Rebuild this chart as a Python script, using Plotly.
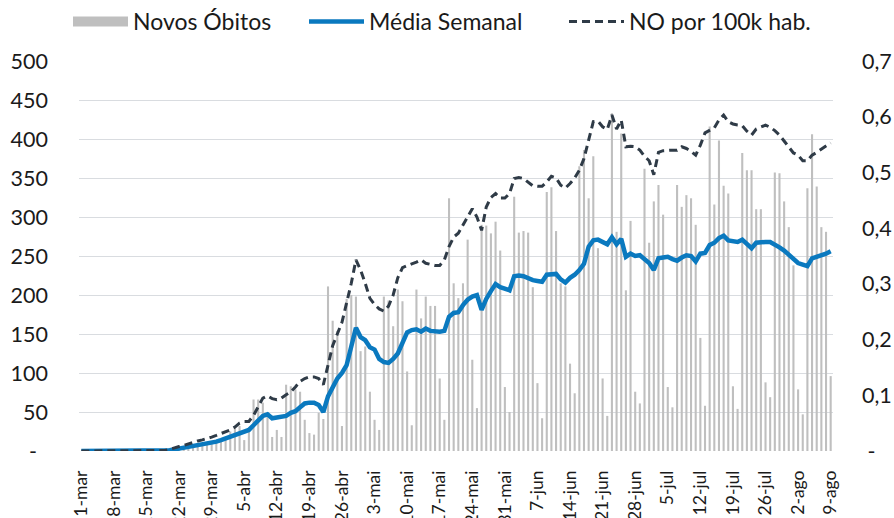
import pandas as pd
import plotly.graph_objects as go

datas = pd.date_range("2020-03-01", "2020-08-09", freq="D")

novos_obitos = [
    0, 0, 0, 0, 0, 0, 0, 0, 0, 0,
    0, 0, 0, 0, 0, 1, 1, 2, 3, 4,
    5, 3, 6, 7, 8, 6, 9, 8, 10, 12,
    14, 16, 25, 30, 32, 14, 28, 66, 66, 62,
    45, 18, 27, 18, 85, 83, 79, 76, 40, 23,
    21, 49, 41, 211, 167, 154, 32, 195, 200, 198,
    128, 134, 76, 40, 27, 198, 193, 160, 207, 192,
    102, 33, 207, 170, 198, 186, 186, 93, 40, 324,
    215, 196, 215, 271, 117, 55, 290, 289, 279, 294,
    257, 82, 50, 326, 280, 282, 280, 210, 87, 42,
    332, 338, 282, 215, 211, 112, 74, 365, 386, 324,
    378, 260, 93, 45, 433, 281, 407, 206, 295, 76,
    61, 362, 267, 320, 341, 303, 82, 56, 341, 313,
    328, 324, 290, 145, 58, 416, 316, 398, 340, 330,
    83, 54, 382, 360, 360, 310, 310, 88, 69, 357,
    356, 320, 287, 238, 79, 47, 337, 406, 339, 287,
    281, 96,
]

media_semanal = [0] * 18 + [
    0.5, 1, 2, 3, 4, 5, 6, 8, 9, 10,
    11, 12, 14, 16, 18, 20, 23, 25, 27, 33,
    40, 45, 47, 42, 43, 44, 45, 49, 51, 56,
    61, 62, 62, 59, 50, 70, 83, 93, 100, 110,
    134, 158, 146, 142, 133, 130, 118, 114, 113, 118,
    125, 140, 152, 155, 156, 153, 157, 154, 153, 153,
    154, 172, 177, 178, 187, 194, 198, 200, 181, 195,
    205, 214, 210, 208, 206, 224, 225, 224, 221, 219,
    218, 217, 226, 227, 227, 220, 216, 222, 226, 232,
    240, 262, 270, 271, 268, 265, 274, 265, 272, 249,
    253, 250, 251, 245, 241, 232, 247, 248, 249, 246,
    244, 248, 251, 250, 243, 253, 254, 264, 267, 273,
    276, 270, 269, 268, 271, 265, 260, 267, 268, 268,
    268, 265, 261, 257, 251, 245, 241, 239, 237, 247,
    249, 250, 253, 256,
]

no_por_100k = [0] * 18 + [
    0.001, 0.003, 0.006, 0.008, 0.010, 0.013, 0.015, 0.018, 0.020, 0.022,
    0.025, 0.028, 0.031, 0.034, 0.038, 0.043, 0.050, 0.053, 0.053, 0.064,
    0.081, 0.095, 0.099, 0.094, 0.092, 0.095, 0.101, 0.106, 0.115, 0.125,
    0.130, 0.133, 0.133, 0.130, 0.119, 0.154, 0.189, 0.210, 0.231, 0.266,
    0.301, 0.343, 0.325, 0.301, 0.274, 0.263, 0.255, 0.251, 0.260, 0.280,
    0.311, 0.329, 0.333, 0.336, 0.339, 0.343, 0.337, 0.335, 0.333, 0.333,
    0.343, 0.367, 0.384, 0.391, 0.406, 0.419, 0.435, 0.420, 0.396, 0.438,
    0.455, 0.462, 0.454, 0.454, 0.462, 0.489, 0.491, 0.489, 0.482, 0.476,
    0.475, 0.475, 0.483, 0.493, 0.490, 0.477, 0.472, 0.480, 0.490, 0.504,
    0.525, 0.557, 0.591, 0.592, 0.582, 0.577, 0.603, 0.578, 0.594, 0.546,
    0.547, 0.546, 0.540, 0.529, 0.521, 0.496, 0.536, 0.539, 0.540, 0.540,
    0.540, 0.546, 0.543, 0.538, 0.531, 0.549, 0.571, 0.575, 0.580, 0.594,
    0.603, 0.591, 0.587, 0.585, 0.584, 0.574, 0.567, 0.578, 0.582, 0.585,
    0.581, 0.575, 0.567, 0.557, 0.546, 0.535, 0.531, 0.521, 0.521, 0.531,
    0.536, 0.542, 0.547, 0.553,
]

rotulos_x = ["1-mar", "8-mar", "15-mar", "22-mar", "29-mar", "5-abr", "12-abr",
             "19-abr", "26-abr", "3-mai", "10-mai", "17-mai", "24-mai", "31-mai",
             "7-jun", "14-jun", "21-jun", "28-jun", "5-jul", "12-jul", "19-jul",
             "26-jul", "2-ago", "9-ago"]
ticks_esq = [0, 50, 100, 150, 200, 250, 300, 350, 400, 450, 500]
rotulos_esq = ["-\u00a0\u00a0", "50", "100", "150", "200", "250", "300", "350", "400", "450", "500"]
ticks_dir = [0, 0.1, 0.2, 0.3, 0.4, 0.5, 0.6, 0.7]
rotulos_dir = ["\u00a0-", "0,1", "0,2", "0,3", "0,4", "0,5", "0,6", "0,7"]

assert len(novos_obitos) == len(datas) == len(media_semanal) == len(no_por_100k)

FONT = "Lato"
GREY = "#BFBFBF"
BLUE = "#0A79BF"
DARK = "#2F3B47"

fig = go.Figure()
fig.add_trace(go.Bar(x=datas, y=novos_obitos, marker_color=GREY, marker_line_width=0,
                     name="Novos Óbitos", showlegend=False))
# legend-only entry drawn as a wide grey block, like the original legend key
fig.add_trace(go.Scatter(x=[None], y=[None], mode="lines", name="Novos Óbitos",
                         line=dict(color=GREY, width=13), legendwidth=166))
fig.add_trace(go.Scatter(x=datas, y=media_semanal, mode="lines", name="Média Semanal",
                         line=dict(color=BLUE, width=4.5), legendwidth=190))
fig.add_trace(go.Scatter(x=datas, y=no_por_100k, mode="lines", name="NO por 100k hab.",
                         yaxis="y2", line=dict(color=DARK, width=3, dash="8px,5px")))

fig.update_layout(
    width=894, height=518,
    margin=dict(l=79, r=61, t=61, b=67, autoexpand=False),
    paper_bgcolor="white", plot_bgcolor="white",
    font=dict(family=FONT, size=21.5, color="#1a1a1a"),
    bargap=0.55,
    showlegend=True,
    legend=dict(orientation="h", xref="container", x=68 / 894, xanchor="left",
                yref="container", y=1.0, yanchor="top",
                font=dict(size=23, family=FONT), itemwidth=55,
                traceorder="normal", bgcolor="rgba(0,0,0,0)"),
    xaxis=dict(
        range=["2020-02-29 12:00", "2020-08-09 12:00"],
        tickvals=[datas[i] for i in range(0, len(datas), 7)],
        ticktext=rotulos_x, tickangle=-90, tickfont=dict(size=17.5),
        showgrid=False, zeroline=False, showline=False, ticks="",
        ticklabelstandoff=15, automargin=False,
    ),
    yaxis=dict(
        range=[0, 500], tickvals=ticks_esq, ticktext=rotulos_esq,
        showgrid=True, gridcolor="#D9DCE0", gridwidth=1.3,
        zeroline=False, showline=False, ticks="",
        ticklabelstandoff=30, automargin=False,
    ),
    yaxis2=dict(
        range=[0, 0.7], tickvals=ticks_dir, ticktext=rotulos_dir,
        overlaying="y", side="right", showgrid=False, zeroline=False,
        showline=False, ticks="", ticklabelstandoff=28, automargin=False,
    ),
)

fig.write_html("out.html", config={"displayModeBar": False},
               post_script="document.body.style.margin='0';document.body.style.overflow='hidden';")
